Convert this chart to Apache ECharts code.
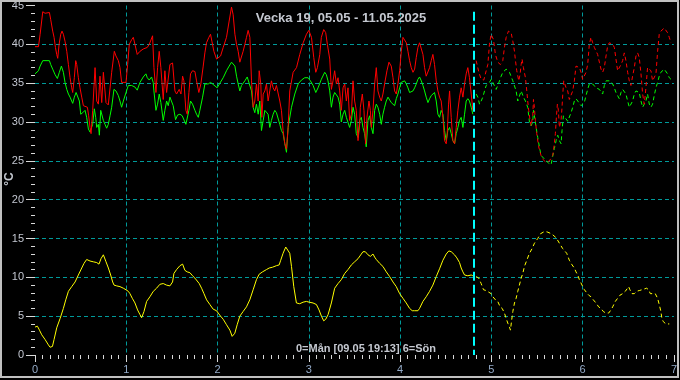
<!DOCTYPE html>
<html>
<head>
<meta charset="utf-8">
<script src="https://cdn.jsdelivr.net/npm/echarts@6/dist/echarts.min.js"></script>
<style>
html,body{margin:0;padding:0;background:#000;}
#c{width:680px;height:380px;}
</style>
</head>
<body>
<div id="c"></div>
<script>
const titleText = 'Vecka 19, 05.05 - 11.05.2025';
const footText = '0=Mån [09.05 19:13] 6=Sön';
const unitText = '°C';
const nowDay = 4.808;
const xTicks = [0,1,2,3,4,5,6,7];
const yTicks = [0,5,10,15,20,25,30,35,40,45];

const redMeasured = [[0,39.7],[0.038,39.7],[0.056,41.3],[0.085,44.2],[0.11,44.0],[0.129,43.9],[0.158,44.1],[0.172,43.2],[0.194,41.7],[0.209,40.9],[0.224,39.6],[0.238,38.7],[0.249,38.2],[0.264,40.0],[0.282,41.3],[0.296,41.7],[0.311,41.3],[0.329,40.4],[0.348,39.1],[0.366,37.4],[0.384,35.7],[0.402,34.4],[0.413,33.8],[0.431,35.7],[0.446,37.9],[0.457,37.4],[0.475,35.7],[0.493,34.4],[0.512,33.2],[0.53,32.1],[0.548,32.0],[0.574,31.9],[0.588,30.8],[0.603,29.3],[0.614,28.5],[0.632,31.5],[0.658,37.0],[0.676,32.7],[0.694,32.3],[0.712,35.9],[0.731,32.5],[0.749,36.4],[0.778,32.5],[0.803,32.2],[0.822,32.3],[0.84,36.4],[0.869,39.1],[0.887,38.5],[0.913,37.9],[0.931,37.0],[0.949,35.1],[0.997,35.1],[1.015,37.4],[1.033,40.0],[1.059,40.6],[1.077,40.9],[1.095,40.0],[1.12,38.7],[1.15,39.1],[1.186,39.4],[1.23,39.6],[1.252,40.0],[1.288,41.1],[1.303,37.0],[1.325,33.8],[1.343,37.0],[1.361,39.1],[1.379,37.0],[1.405,32.9],[1.423,36.6],[1.442,33.8],[1.46,33.6],[1.478,37.4],[1.507,37.6],[1.533,34.0],[1.551,33.6],[1.58,34.2],[1.599,33.6],[1.617,35.9],[1.631,35.3],[1.653,31.5],[1.668,31.0],[1.686,33.8],[1.704,36.2],[1.726,36.6],[1.752,36.5],[1.77,35.3],[1.795,33.8],[1.817,34.9],[1.843,37.2],[1.861,38.9],[1.879,40.2],[1.905,40.9],[1.923,41.3],[1.938,40.4],[1.96,39.1],[1.989,38.1],[2.007,37.9],[2.033,38.5],[2.062,39.6],[2.098,40.9],[2.127,43.0],[2.153,44.8],[2.171,43.8],[2.19,41.3],[2.208,40.0],[2.226,39.1],[2.244,37.7],[2.262,37.9],[2.28,39.1],[2.299,40.0],[2.317,40.9],[2.335,41.8],[2.354,40.9],[2.372,35.3],[2.39,31.9],[2.408,32.7],[2.426,34.9],[2.445,32.7],[2.456,36.6],[2.474,34.9],[2.485,30.6],[2.5,33.6],[2.518,34.0],[2.536,34.9],[2.554,32.7],[2.572,34.0],[2.59,35.3],[2.609,34.4],[2.627,34.0],[2.645,34.7],[2.663,34.7],[2.682,32.7],[2.7,31.5],[2.718,28.9],[2.737,27.2],[2.755,26.5],[2.773,29.3],[2.791,34.0],[2.828,36.4],[2.865,37.0],[2.901,38.7],[2.938,40.2],[2.974,41.3],[3.0,41.8],[3.029,40.9],[3.054,38.3],[3.076,36.4],[3.094,37.0],[3.12,38.7],[3.137,40.9],[3.163,41.9],[3.185,41.5],[3.203,40.0],[3.229,38.1],[3.247,34.2],[3.265,35.3],[3.283,36.6],[3.302,34.9],[3.32,35.7],[3.338,34.0],[3.356,31.5],[3.375,34.4],[3.393,34.9],[3.411,32.7],[3.429,34.4],[3.447,30.2],[3.466,31.0],[3.484,35.3],[3.502,32.7],[3.52,31.5],[3.539,27.6],[3.557,29.7],[3.564,31.9],[3.586,33.6],[3.604,31.5],[3.622,27.2],[3.637,30.6],[3.659,32.7],[3.674,31.5],[3.685,29.3],[3.703,31.5],[3.721,34.9],[3.739,37.0],[3.757,34.0],[3.776,33.2],[3.794,32.7],[3.812,33.6],[3.83,34.9],[3.856,36.6],[3.878,37.7],[3.903,37.2],[3.922,35.7],[3.94,34.0],[3.958,33.6],[3.976,34.9],[3.995,36.6],[4.013,39.1],[4.031,40.9],[4.049,41.1],[4.068,40.2],[4.086,39.1],[4.104,37.9],[4.122,37.0],[4.141,36.4],[4.159,36.8],[4.177,38.3],[4.195,39.6],[4.213,40.2],[4.232,40.0],[4.25,38.7],[4.268,37.0],[4.286,35.9],[4.305,35.7],[4.323,37.0],[4.341,37.9],[4.359,38.7],[4.377,37.4],[4.396,35.3],[4.414,34.0],[4.432,33.2],[4.45,32.7],[4.469,30.6],[4.487,27.6],[4.505,27.2],[4.516,28.5],[4.531,32.3],[4.542,34.0],[4.56,30.6],[4.578,27.6],[4.597,27.2],[4.615,29.3],[4.633,31.5],[4.651,33.2],[4.669,34.4],[4.688,33.2],[4.706,34.9],[4.724,36.2],[4.742,37.0],[4.76,35.7],[4.779,33.6],[4.797,31.5]];

const greenMeasured = [[0,36.2],[0.038,36.6],[0.056,37.2],[0.085,37.9],[0.158,37.9],[0.172,37.4],[0.194,36.8],[0.22,36.1],[0.245,35.6],[0.267,36.4],[0.289,37.2],[0.311,36.4],[0.329,35.1],[0.348,34.2],[0.366,33.6],[0.384,33.2],[0.413,32.4],[0.431,33.2],[0.45,33.8],[0.468,33.6],[0.486,32.7],[0.501,31.0],[0.523,31.2],[0.548,31.5],[0.566,30.6],[0.585,29.1],[0.603,28.7],[0.614,28.5],[0.632,29.7],[0.65,31.7],[0.665,30.6],[0.676,29.3],[0.694,29.7],[0.705,28.3],[0.72,31.5],[0.731,31.7],[0.749,30.2],[0.767,29.7],[0.785,29.2],[0.803,29.7],[0.822,30.8],[0.84,31.9],[0.865,34.2],[0.887,34.0],[0.913,33.4],[0.931,32.7],[0.949,31.9],[0.968,32.7],[0.997,33.8],[1.022,34.7],[1.059,34.7],[1.095,34.5],[1.12,34.1],[1.15,35.1],[1.186,35.8],[1.215,36.2],[1.23,35.7],[1.252,35.4],[1.277,35.8],[1.295,35.1],[1.303,34.0],[1.325,31.5],[1.343,32.3],[1.361,33.6],[1.379,32.5],[1.405,30.2],[1.423,31.5],[1.442,32.7],[1.46,32.1],[1.478,33.2],[1.496,33.4],[1.514,32.1],[1.54,30.3],[1.562,30.9],[1.588,31.0],[1.613,30.8],[1.631,30.6],[1.653,29.7],[1.668,29.5],[1.686,31.5],[1.704,32.7],[1.726,32.3],[1.752,31.5],[1.77,31.0],[1.789,30.6],[1.806,31.5],[1.836,33.2],[1.861,34.9],[1.879,35.1],[1.898,34.9],[1.923,35.1],[1.945,34.9],[1.996,34.4],[2.025,35.0],[2.062,35.7],[2.098,36.6],[2.127,37.2],[2.153,37.7],[2.171,37.9],[2.19,37.2],[2.208,35.9],[2.226,34.9],[2.244,34.0],[2.262,34.7],[2.299,35.3],[2.325,35.8],[2.346,35.7],[2.372,34.0],[2.39,31.9],[2.408,31.2],[2.426,32.3],[2.445,31.0],[2.463,32.7],[2.481,28.9],[2.5,30.2],[2.518,31.5],[2.536,31.5],[2.554,31.0],[2.572,29.3],[2.59,30.2],[2.609,31.0],[2.627,31.5],[2.645,31.2],[2.663,31.0],[2.682,29.7],[2.7,28.9],[2.718,28.5],[2.737,27.2],[2.755,26.1],[2.773,29.3],[2.81,31.9],[2.846,33.6],[2.883,34.9],[2.919,35.4],[2.955,35.7],[2.992,35.7],[3.017,35.3],[3.047,34.7],[3.076,33.8],[3.101,34.4],[3.137,35.5],[3.174,36.4],[3.192,36.1],[3.21,35.3],[3.229,34.0],[3.247,31.9],[3.265,33.2],[3.283,33.8],[3.302,33.6],[3.32,33.2],[3.338,32.3],[3.356,30.0],[3.375,31.0],[3.393,31.5],[3.411,30.6],[3.429,30.6],[3.447,29.3],[3.466,30.2],[3.484,31.9],[3.502,31.0],[3.52,28.5],[3.539,28.0],[3.557,30.2],[3.575,30.6],[3.593,29.3],[3.611,28.5],[3.629,26.8],[3.648,30.2],[3.666,30.8],[3.685,29.3],[3.703,28.5],[3.721,31.5],[3.739,32.3],[3.757,31.9],[3.776,31.0],[3.794,29.7],[3.812,31.0],[3.83,31.9],[3.848,32.7],[3.867,33.2],[3.885,33.0],[3.903,32.5],[3.922,32.3],[3.94,32.1],[3.958,33.0],[3.976,33.6],[3.995,34.4],[4.013,35.1],[4.031,35.3],[4.049,35.3],[4.068,34.9],[4.086,34.4],[4.104,33.8],[4.122,33.6],[4.141,34.0],[4.159,34.4],[4.177,34.9],[4.195,35.5],[4.213,35.8],[4.232,35.3],[4.25,34.7],[4.268,34.0],[4.286,33.2],[4.305,32.5],[4.323,33.0],[4.341,33.4],[4.359,33.4],[4.377,33.8],[4.396,32.7],[4.414,31.0],[4.432,30.6],[4.45,31.5],[4.469,31.0],[4.487,28.9],[4.505,27.6],[4.523,28.9],[4.542,29.3],[4.56,28.5],[4.578,27.6],[4.597,27.2],[4.615,28.5],[4.633,29.3],[4.651,30.2],[4.669,30.6],[4.688,29.3],[4.706,31.0],[4.724,32.7],[4.742,33.0],[4.76,32.7],[4.779,31.9],[4.797,31.0]];

const yellowMeasured = [[0,3.6],[0.027,3.7],[0.049,3.2],[0.074,2.6],[0.11,2.0],[0.147,1.3],[0.165,1.0],[0.191,1.1],[0.209,2.0],[0.238,3.5],[0.275,4.7],[0.311,6.0],[0.337,7.1],[0.366,8.2],[0.402,8.8],[0.439,9.4],[0.475,10.3],[0.512,11.2],[0.537,11.8],[0.566,12.3],[0.603,12.1],[0.639,12.0],[0.676,11.9],[0.701,11.7],[0.723,12.4],[0.749,12.9],[0.778,12.0],[0.804,11.2],[0.829,10.3],[0.851,9.4],[0.866,9.0],[0.895,8.9],[0.931,8.8],[0.968,8.6],[0.997,8.4],[1.022,8.2],[1.04,7.9],[1.066,7.3],[1.095,6.7],[1.124,5.8],[1.15,5.2],[1.168,4.8],[1.194,5.6],[1.223,6.9],[1.259,7.5],[1.296,8.2],[1.332,8.6],[1.368,9.1],[1.405,9.2],[1.441,9.0],[1.478,8.9],[1.507,9.4],[1.522,10.5],[1.551,11.0],[1.588,11.5],[1.617,11.7],[1.642,10.9],[1.668,10.7],[1.697,10.6],[1.726,10.2],[1.752,9.9],[1.77,9.7],[1.799,9.2],[1.825,8.6],[1.851,7.9],[1.88,7.1],[1.916,6.5],[1.952,5.9],[1.989,5.7],[2.007,5.4],[2.033,5.0],[2.062,4.6],[2.098,3.9],[2.135,3.2],[2.16,2.4],[2.189,2.8],[2.215,3.9],[2.244,5.0],[2.28,5.6],[2.317,6.2],[2.353,7.1],[2.39,8.4],[2.426,9.7],[2.456,10.4],[2.492,10.7],[2.536,11.0],[2.566,11.2],[2.601,11.3],[2.645,11.5],[2.675,11.6],[2.692,12.2],[2.718,13.1],[2.747,13.9],[2.766,13.8],[2.791,13.1],[2.81,11.4],[2.835,8.8],[2.864,6.7],[2.9,6.6],[2.937,6.8],[2.973,6.9],[3.003,6.8],[3.046,6.7],[3.083,6.5],[3.112,5.8],[3.138,5.0],[3.163,4.4],[3.185,4.6],[3.211,5.2],[3.247,6.7],[3.283,8.6],[3.32,9.2],[3.356,9.7],[3.393,10.5],[3.429,11.0],[3.466,11.6],[3.502,12.0],[3.539,12.4],[3.575,13.0],[3.593,13.3],[3.619,13.3],[3.648,12.9],[3.674,12.7],[3.703,13.0],[3.721,12.6],[3.739,12.3],[3.776,11.8],[3.812,11.4],[3.849,10.7],[3.885,10.1],[3.922,9.4],[3.958,8.8],[3.995,7.9],[4.031,7.3],[4.067,6.7],[4.104,6.0],[4.133,5.7],[4.159,5.7],[4.195,5.7],[4.213,6.0],[4.25,6.9],[4.286,7.5],[4.323,8.2],[4.359,9.0],[4.396,10.1],[4.432,11.1],[4.469,12.2],[4.505,13.0],[4.534,13.4],[4.56,13.3],[4.596,12.9],[4.622,12.5],[4.651,11.9],[4.669,11.2],[4.688,10.7],[4.706,10.3],[4.724,10.1],[4.742,10.2],[4.76,10.1],[4.779,10.3],[4.797,10.2]];

const redForecast = [[4.833,37.9],[4.863,36.4],[4.888,35.5],[4.917,35.4],[4.943,36.6],[4.961,37.4],[4.979,40.0],[4.997,41.3],[5.008,41.5],[5.023,40.6],[5.044,38.7],[5.07,37.7],[5.099,37.4],[5.125,37.9],[5.143,39.6],[5.162,40.9],[5.187,41.7],[5.205,41.9],[5.216,41.5],[5.235,40.4],[5.253,39.1],[5.264,37.9],[5.278,36.6],[5.3,35.3],[5.315,36.2],[5.326,37.4],[5.336,38.1],[5.351,37.0],[5.373,35.7],[5.388,34.0],[5.398,32.7],[5.409,31.5],[5.424,30.2],[5.435,29.5],[5.453,30.8],[5.461,32.9],[5.471,31.9],[5.482,30.2],[5.497,28.5],[5.518,26.8],[5.544,25.7],[5.563,25.2],[5.599,24.8],[5.61,24.7],[5.636,25.0],[5.654,24.8],[5.672,25.7],[5.69,27.2],[5.701,28.5],[5.712,30.6],[5.723,32.3],[5.734,31.5],[5.745,29.3],[5.763,30.2],[5.774,31.9],[5.782,33.6],[5.793,35.3],[5.818,34.4],[5.836,34.0],[5.854,32.9],[5.873,32.7],[5.891,34.0],[5.909,35.3],[5.927,37.2],[5.946,37.4],[5.964,37.0],[5.982,36.4],[6.0,35.5],[6.018,35.7],[6.037,36.4],[6.055,37.4],[6.073,40.0],[6.091,40.9],[6.11,40.2],[6.128,39.6],[6.146,39.4],[6.164,38.7],[6.183,37.7],[6.201,36.8],[6.219,36.4],[6.237,37.0],[6.256,38.5],[6.274,39.8],[6.292,40.2],[6.31,40.4],[6.329,40.0],[6.347,39.6],[6.365,38.1],[6.383,36.6],[6.401,36.5],[6.42,37.4],[6.438,37.9],[6.456,38.9],[6.474,37.9],[6.493,36.4],[6.511,35.3],[6.529,34.7],[6.547,35.9],[6.566,37.0],[6.584,38.5],[6.602,38.9],[6.62,38.3],[6.639,36.2],[6.657,33.6],[6.675,32.3],[6.693,34.4],[6.711,37.0],[6.73,37.2],[6.748,36.6],[6.766,35.3],[6.784,35.3],[6.803,36.2],[6.821,39.1],[6.839,41.3],[6.857,41.7],[6.876,41.9],[6.894,42.1],[6.912,42.0],[6.93,41.5],[6.949,40.9],[6.967,40.2]];

const greenForecast = [[4.833,33.6],[4.852,33.2],[4.87,32.3],[4.888,32.7],[4.906,33.2],[4.925,34.0],[4.943,34.7],[4.961,34.9],[4.979,35.1],[4.998,35.5],[5.016,35.1],[5.034,34.9],[5.052,34.2],[5.07,34.7],[5.089,35.3],[5.107,35.9],[5.125,36.4],[5.143,36.6],[5.162,36.8],[5.18,36.6],[5.198,36.4],[5.216,36.6],[5.235,35.3],[5.253,35.1],[5.271,34.0],[5.289,32.7],[5.307,32.9],[5.326,34.0],[5.336,34.2],[5.351,33.2],[5.373,32.7],[5.398,31.9],[5.417,30.0],[5.435,29.5],[5.453,30.0],[5.461,31.5],[5.471,30.8],[5.49,29.3],[5.508,28.0],[5.526,26.8],[5.544,25.7],[5.563,25.5],[5.599,25.0],[5.628,24.7],[5.654,24.5],[5.672,25.6],[5.69,26.6],[5.709,27.6],[5.727,28.3],[5.745,27.6],[5.763,27.2],[5.774,28.9],[5.789,30.8],[5.804,31.0],[5.818,30.4],[5.836,30.1],[5.854,30.2],[5.873,31.2],[5.891,31.9],[5.909,32.7],[5.927,33.0],[5.946,32.7],[5.964,32.5],[5.982,32.1],[6.0,31.9],[6.018,32.5],[6.037,33.4],[6.055,34.2],[6.073,34.9],[6.091,35.0],[6.11,34.9],[6.128,34.7],[6.146,34.4],[6.164,34.35],[6.183,34.2],[6.201,34.0],[6.219,33.6],[6.237,34.7],[6.256,35.3],[6.274,35.5],[6.292,35.3],[6.31,35.1],[6.329,34.9],[6.347,34.4],[6.365,33.8],[6.383,33.4],[6.401,33.0],[6.42,33.8],[6.438,34.2],[6.456,34.2],[6.474,33.6],[6.493,32.7],[6.511,31.9],[6.529,31.9],[6.547,32.7],[6.566,33.6],[6.584,34.0],[6.602,34.0],[6.62,33.8],[6.639,32.7],[6.657,31.9],[6.675,31.9],[6.693,32.7],[6.711,33.6],[6.73,32.3],[6.748,31.9],[6.766,32.3],[6.784,33.4],[6.803,34.4],[6.821,35.1],[6.839,35.9],[6.857,36.4],[6.876,36.6],[6.894,36.8],[6.912,36.6],[6.93,36.2],[6.949,35.7],[6.967,35.5]];

const yellowForecast = [[4.833,10.1],[4.862,9.9],[4.888,9.2],[4.914,8.4],[4.943,8.3],[4.961,8.4],[4.997,7.9],[5.016,7.5],[5.045,7.1],[5.07,6.9],[5.096,6.2],[5.118,6.0],[5.143,5.4],[5.162,4.7],[5.18,4.1],[5.198,3.6],[5.209,3.2],[5.22,4.3],[5.235,5.6],[5.253,6.7],[5.271,7.3],[5.289,8.2],[5.307,9.0],[5.326,9.9],[5.344,10.5],[5.362,11.4],[5.388,12.2],[5.417,13.1],[5.446,13.7],[5.472,14.4],[5.508,15.0],[5.537,15.6],[5.581,15.9],[5.61,15.85],[5.66,15.6],[5.709,15.1],[5.745,14.4],[5.781,13.7],[5.825,13.1],[5.854,12.2],[5.884,11.6],[5.909,11.2],[5.927,10.7],[5.946,10.3],[5.964,9.7],[5.993,9.0],[6.019,8.4],[6.037,8.2],[6.066,7.7],[6.091,7.5],[6.117,7.1],[6.146,6.7],[6.175,6.2],[6.201,6.0],[6.226,5.6],[6.255,5.4],[6.285,5.4],[6.31,5.8],[6.329,6.2],[6.358,6.9],[6.383,7.3],[6.409,7.7],[6.438,7.9],[6.467,8.2],[6.485,8.4],[6.504,8.8],[6.518,8.4],[6.54,7.9],[6.566,7.9],[6.591,8.2],[6.62,8.3],[6.649,8.4],[6.675,8.5],[6.701,8.6],[6.723,8.4],[6.741,7.9],[6.766,7.9],[6.795,7.9],[6.821,7.3],[6.839,6.5],[6.857,5.6],[6.868,4.7],[6.883,4.3],[6.912,4.0],[6.949,4.0]];

const chart = echarts.init(document.getElementById('c'), null, {renderer:'canvas'});
const gridColor = '#009a9a';
const tickColor = '#d8d8d8';
function line(data, color, dashed, z){
  return {type:'line', data:data, showSymbol:false, symbol:'none', smooth:false, silent:true, z:z,
    lineStyle:{color:color, width:1, type: dashed ? [4,3] : 'solid'}};
}
const series = [
  line(greenMeasured,'#00ff00',false,3),
  line(redMeasured,'#ff0000',false,4),
  line(greenForecast,'#00ff00',true,3),
  line(redForecast,'#ff0000',true,4),
  line(yellowMeasured,'#ffff00',false,3),
  line(yellowForecast,'#ffff00',true,3)
];
series[5].markLine = {silent:true, symbol:['none','none'], label:{show:false},
  lineStyle:{color:'#00ffff', width:2, type:[9,4]},
  data:[[{coord:[nowDay,44.2]},{coord:[nowDay,0]}]]};

chart.setOption({
  animation:false,
  backgroundColor:'#000000',
  grid:{left:35, right:5, top:4, bottom:25, containLabel:false},
  xAxis:{type:'value', min:xTicks[0], max:xTicks[xTicks.length-1], interval:1,
    axisLine:{show:false},
    axisTick:{show:true, length:7, lineStyle:{color:tickColor}},
    minorTick:{show:true, splitNumber:12, length:4, lineStyle:{color:tickColor}},
    axisLabel:{color:'#93aac8', fontSize:11, fontFamily:'Liberation Sans, Arial, sans-serif', margin:9},
    splitLine:{show:true, showMinLine:false, showMaxLine:false, lineStyle:{color:gridColor, type:[4,3], width:1}}
  },
  yAxis:{type:'value', min:yTicks[0], max:yTicks[yTicks.length-1], interval:5,
    axisLine:{show:false},
    axisTick:{show:true, length:9, lineStyle:{color:tickColor}},
    minorTick:{show:true, splitNumber:5, length:4, lineStyle:{color:tickColor}},
    axisLabel:{color:'#c2c6d0', fontSize:11, fontFamily:'Liberation Sans, Arial, sans-serif', margin:11},
    splitLine:{show:true, showMinLine:false, showMaxLine:false, lineStyle:{color:gridColor, type:[4,3], width:1}}
  },
  graphic:[
    {type:'rect', silent:true, z:100, shape:{x:1, y:1, width:677, height:376}, style:{fill:'none', stroke:'#c0c0c0', lineWidth:2}},
    {type:'text', silent:true, z:50, x:341, y:18, style:{text:titleText, fill:'#c4c8d0', font:'bold 13px "Liberation Sans", Arial, sans-serif', textAlign:'center', textVerticalAlign:'middle'}},
    {type:'text', silent:true, z:50, x:366, y:349, style:{text:footText, fill:'#c4c8d0', font:'bold 11px "Liberation Sans", Arial, sans-serif', textAlign:'center', textVerticalAlign:'middle'}},
    {type:'text', silent:true, z:50, x:10, y:179, rotation:Math.PI/2, style:{text:unitText, fill:'#c4c8d0', font:'bold 12px "Liberation Sans", Arial, sans-serif', textAlign:'center', textVerticalAlign:'middle'}}
  ],
  series:series
});
</script>
</body>
</html>
